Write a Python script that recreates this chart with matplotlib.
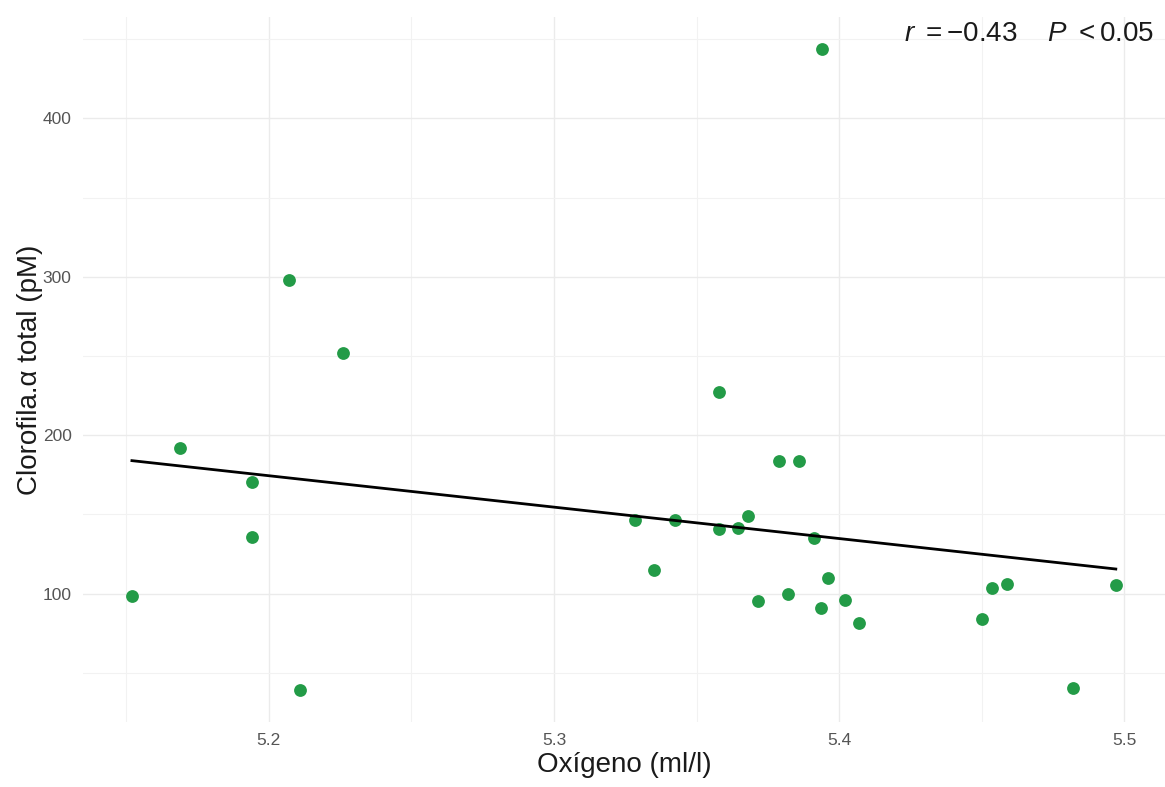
import numpy as np
import matplotlib
matplotlib.use("Agg")
import matplotlib.pyplot as plt
from matplotlib.ticker import MultipleLocator

plt.rcParams["font.family"] = ["Liberation Sans", "DejaVu Sans"]
plt.rcParams["mathtext.fontset"] = "custom"
plt.rcParams["mathtext.rm"] = "Liberation Sans"
plt.rcParams["mathtext.it"] = "Liberation Sans:italic"

# oxygen (ml/l) vs total chlorophyll a (pM)
oxigeno = [5.152, 5.169, 5.194, 5.194, 5.207, 5.211, 5.226, 5.3285, 5.335, 5.3425,
           5.358, 5.358, 5.3645, 5.368, 5.3715, 5.379, 5.382, 5.386, 5.391, 5.394,
           5.3935, 5.396, 5.402, 5.407, 5.450, 5.4535, 5.459, 5.482, 5.497]
clorofila = [98.7, 192, 170.7, 136, 297.7, 39.4, 251.6, 146.7, 115, 146.7,
             227.6, 141, 141.7, 149.3, 95.6, 184, 100, 184, 135.4, 443.6,
             91, 110, 96, 81.7, 84.2, 103.8, 106.3, 40.6, 105.7]

x = np.array(oxigeno)
y = np.array(clorofila)
slope, intercept = np.polyfit(x, y, 1)
xl = np.array([x.min(), x.max()])

fig = plt.figure(figsize=(11.65, 7.87), dpi=100)
ax = fig.add_axes([0.071, 0.083, 0.929, 0.895])

ax.scatter(x, y, s=85, color="#239B47", zorder=3, linewidths=0)
ax.plot(xl, slope * xl + intercept, color="black", lw=2, zorder=4)

xpad = (x.max() - x.min()) * 0.05
ypad = (y.max() - y.min()) * 0.05
ax.set_xlim(x.min() - xpad, x.max() + xpad)
ax.set_ylim(y.min() - ypad, y.max() + ypad)

ax.xaxis.set_minor_locator(MultipleLocator(0.05))
ax.yaxis.set_minor_locator(MultipleLocator(50))
ax.set_xticks([5.2, 5.3, 5.4, 5.5])
ax.set_xticklabels(["5.2", "5.3", "5.4", "5.5"])
ax.set_yticks([100, 200, 300, 400])

ax.grid(which="major", color="#EBEBEB", lw=1.0)
ax.grid(which="minor", color="#F2F2F2", lw=0.8)
ax.set_axisbelow(True)
for s in ax.spines.values():
    s.set_visible(False)
ax.tick_params(which="both", length=0, labelsize=12.5, labelcolor="#555555", pad=8)

ax.set_xlabel("Oxígeno (ml/l)", fontsize=20, labelpad=3, color="#1a1a1a")
ax.set_ylabel("Clorofila.\u03b1 total (pM)", fontsize=20, labelpad=0, color="#1a1a1a")

ax.text(0.99, 0.995, r"$r\ =-0.43$    $P\ <0.05$", transform=ax.transAxes,
        ha="right", va="top", fontsize=20, zorder=5, color="#1a1a1a")

fig.savefig("out.png", dpi=100)
